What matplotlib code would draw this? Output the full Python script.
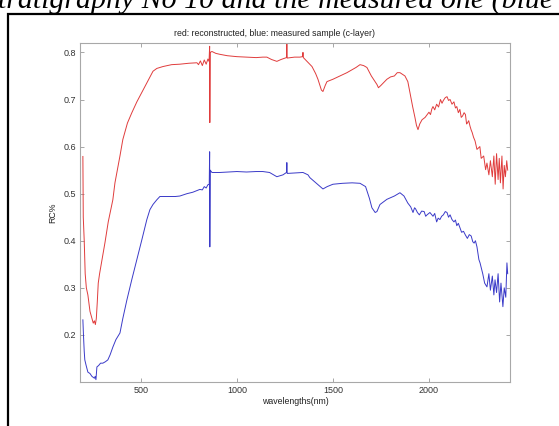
import matplotlib
matplotlib.use('Agg')
import matplotlib.pyplot as plt
from matplotlib.patches import Rectangle

# reconstructed spectrum (red)
red_wl = [198, 200, 205, 210, 216, 224, 235, 245, 252, 258, 263, 268, 273, 278, 285,
          300, 313, 330, 354, 365, 391, 406, 430, 453, 479, 505, 531, 563, 583, 615,
          660, 703, 750, 792, 800, 810, 820, 830, 840, 849, 855, 858, 859, 861, 870,
          890, 911, 950, 1000, 1052, 1100, 1135, 1156, 1180, 1208, 1230, 1258, 1260, 1262,
          1300, 1328, 1342, 1344, 1346, 1370, 1391, 1410, 1422, 1440, 1448, 1460, 1469,
          1500, 1573, 1620, 1641, 1660, 1677, 1700, 1729, 1737, 1750, 1781, 1800, 1820,
          1835, 1849, 1860, 1875, 1890, 1901, 1915, 1927, 1935, 1943, 1952, 1964, 1980,
          2000, 2008, 2015, 2021, 2030, 2040, 2050, 2060, 2068, 2075, 2085, 2094, 2102,
          2110, 2120, 2130, 2138, 2145, 2153, 2161, 2168, 2175, 2183, 2190, 2196, 2200,
          2207, 2214, 2220, 2225, 2232, 2240, 2250, 2265, 2272, 2285, 2295, 2302, 2312,
          2320, 2330, 2338, 2345, 2352, 2360, 2366, 2372, 2380, 2386, 2392, 2398, 2405, 2410]
red_rc = [0.579, 0.45, 0.40, 0.33, 0.30, 0.285, 0.25, 0.235, 0.225, 0.23, 0.222, 0.235, 0.27, 0.31, 0.33,
          0.365, 0.396, 0.44, 0.487, 0.523, 0.58, 0.615, 0.65, 0.672, 0.695, 0.715, 0.735, 0.76, 0.766, 0.77,
          0.774, 0.775, 0.777, 0.778, 0.774, 0.782, 0.772, 0.784, 0.775, 0.786, 0.781, 0.813, 0.651, 0.80, 0.802,
          0.798, 0.796, 0.793, 0.791, 0.79, 0.789, 0.79, 0.79, 0.785, 0.781, 0.785, 0.789, 0.82, 0.788,
          0.79, 0.79, 0.791, 0.80, 0.789, 0.779, 0.77, 0.755, 0.743, 0.72, 0.717, 0.73, 0.738,
          0.743, 0.757, 0.768, 0.774, 0.772, 0.768, 0.75, 0.732, 0.725, 0.73, 0.743, 0.748, 0.75,
          0.757, 0.757, 0.754, 0.75, 0.738, 0.715, 0.685, 0.662, 0.645, 0.636, 0.648, 0.657, 0.662,
          0.673, 0.668, 0.68, 0.685, 0.678, 0.69, 0.684, 0.70, 0.692, 0.698, 0.704, 0.706, 0.698,
          0.70, 0.69, 0.695, 0.682, 0.685, 0.672, 0.679, 0.662, 0.665, 0.672, 0.668, 0.648, 0.65,
          0.655, 0.643, 0.635, 0.63, 0.62, 0.612, 0.594, 0.60, 0.575, 0.58, 0.551, 0.565, 0.54,
          0.57, 0.536, 0.58, 0.52, 0.585, 0.53, 0.575, 0.523, 0.58, 0.51, 0.56, 0.536, 0.57, 0.55]

# measured sample (blue)
blue_wl = [198, 201, 205, 208, 215, 224, 235, 245, 252, 258, 262, 266, 271, 280, 290,
           302, 315, 328, 340, 354, 370, 391, 406, 427, 453, 479, 505, 531, 547, 563,
           583, 599, 640, 680, 703, 740, 770, 807, 820, 830, 840, 849, 856, 858, 859,
           861, 870, 911, 1000, 1050, 1100, 1135, 1170, 1208, 1240, 1258, 1260, 1262, 1300,
           1344, 1370, 1380, 1420, 1448, 1470, 1500, 1550, 1600, 1641, 1670, 1690, 1703,
           1720, 1729, 1745, 1781, 1820, 1849, 1870, 1890, 1905, 1917, 1925, 1930, 1940,
           1950, 1962, 1975, 1983, 1990, 2005, 2021, 2030, 2040, 2048, 2057, 2066, 2075,
           2085, 2094, 2102, 2110, 2120, 2130, 2138, 2145, 2153, 2161, 2170, 2180, 2190,
           2200, 2210, 2220, 2228, 2235, 2242, 2250, 2260, 2266, 2280, 2290, 2302, 2312,
           2320, 2330, 2338, 2344, 2352, 2360, 2368, 2375, 2385, 2392, 2400, 2406, 2410]
blue_rc = [0.232, 0.20, 0.165, 0.147, 0.135, 0.121, 0.118, 0.112, 0.11, 0.108, 0.112, 0.105, 0.132, 0.135, 0.14,
           0.14, 0.143, 0.147, 0.158, 0.174, 0.19, 0.204, 0.235, 0.274, 0.318, 0.36, 0.402, 0.445, 0.466, 0.477,
           0.487, 0.494, 0.494, 0.494, 0.495, 0.50, 0.503, 0.509, 0.508, 0.515, 0.512, 0.519, 0.52, 0.589, 0.387,
           0.55, 0.545, 0.545, 0.547, 0.546, 0.547, 0.547, 0.545, 0.536, 0.54, 0.545, 0.566, 0.543, 0.544,
           0.545, 0.54, 0.534, 0.52, 0.51, 0.515, 0.52, 0.522, 0.523, 0.522, 0.515, 0.49, 0.47,
           0.46, 0.462, 0.477, 0.488, 0.495, 0.502, 0.495, 0.48, 0.472, 0.46, 0.47, 0.468, 0.46,
           0.455, 0.463, 0.462, 0.452, 0.455, 0.46, 0.452, 0.458, 0.44, 0.448, 0.445, 0.452, 0.455,
           0.462, 0.46, 0.45, 0.455, 0.445, 0.44, 0.444, 0.432, 0.437, 0.428, 0.418, 0.42, 0.412,
           0.405, 0.413, 0.41, 0.398, 0.395, 0.40, 0.387, 0.36, 0.353, 0.33, 0.31, 0.302, 0.33,
           0.295, 0.325, 0.285, 0.317, 0.29, 0.33, 0.27, 0.31, 0.26, 0.30, 0.28, 0.353, 0.33]

x_ticks = [500, 1000, 1500, 2000]
y_ticks = [0.2, 0.3, 0.4, 0.5, 0.6, 0.7, 0.8]

W, H = 559, 426
fig = plt.figure(figsize=(W / 100, H / 100), dpi=100)
fig.patch.set_facecolor('white')

# caption of the document, cut off at the top
fig.text(-0.004, 1 - 8 / H, 'tratigraphy No 10 and the measured one (blue',
         family='Liberation Serif', style='italic', fontsize=21.5,
         ha='left', va='baseline', color='black')

# black frame around the pasted figure
fig.patches.append(Rectangle((7.5 / W, -0.2), 1.2, 1 - 14 / H + 0.2,
                             transform=fig.transFigure, fill=False,
                             edgecolor='black', linewidth=1.6))

ax = fig.add_axes([80 / W, 1 - 382 / H, 430 / W, 339 / H])
ax.plot(red_wl, red_rc, color='#e03c3c', linewidth=0.7)
ax.plot(blue_wl, blue_rc, color='#3a3ac8', linewidth=0.7)

ax.set_xlim(183, 2422)
ax.set_ylim(0.1, 0.82)
ax.set_xticks(x_ticks)
ax.set_yticks(y_ticks)
ax.set_yticklabels(['%.1f' % v for v in y_ticks])
ax.tick_params(direction='in', length=3, width=0.6, colors='#999999',
               labelcolor='#333333', labelsize=6.5, top=True, right=True, pad=3)
for s in ax.spines.values():
    s.set_color('#a8a8a8')
    s.set_linewidth(0.8)

tfont = dict(family='Liberation Sans', fontsize=6.3, color='#222222')
ax.set_title('red: reconstructed, blue: measured sample (c-layer)', x=0.453, pad=5, **tfont)
ax.set_xlabel('wavelengths(nm)', labelpad=1, **tfont)
ax.set_ylabel('RC%', labelpad=4, **tfont)
for lab in ax.get_xticklabels() + ax.get_yticklabels():
    lab.set_family('Liberation Sans')

fig.savefig('out.png', dpi=100)
